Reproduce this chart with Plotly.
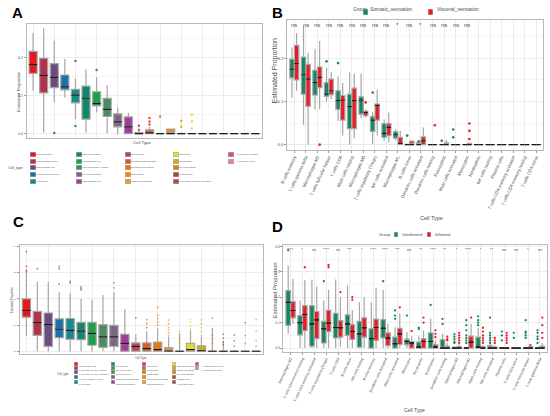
import plotly.graph_objects as go

W, H = 550, 416
FONT = "Arial, Liberation Sans, sans-serif"
GREY = "#4d4d4d"
BOX_LINE = "#a6a6a6"
GREEN, RED = "#15875F", "#EB1C24"

palette = ["#E8161E", "#B5304A", "#6A4C7F", "#1C72A8", "#168A8C", "#13876B",
           "#1EA04A", "#4A8C62", "#7B6783", "#A23D9C", "#C0415C", "#DA5B2A",
           "#E8751A", "#EF8C10", "#E0A51A", "#E2DD23", "#D0A91D", "#C08C2A",
           "#A04E22", "#B54A42", "#D3507A", "#E47EB2"]

# ---- panel A: all samples ----
cells_a = ["B cells memory", "T cells gamma delta", "Macrophages M2", "T cells follicular helper",
           "T cells CD8", "Mast cells resting", "Macrophages M0", "T cells regulatory (Tregs)",
           "NK cells activated", "Macrophages M1", "B cells naive", "Dendritic cells activated",
           "Dendritic cells resting", "Eosinophils", "Mast cells activated", "Monocytes",
           "Neutrophils", "NK cells resting", "Plasma cells", "T cells CD4 memory activated",
           "T cells CD4 memory", "T cells CD4 naive"]
q1_a = [0.158, 0.107, 0.121, 0.115, 0.081, 0.038, 0.073, 0.045, 0.018, 0.0, 0.0, 0.0,
        0.0, 0.0, 0.0, 0.0, 0.0, 0.0, 0.0, 0.0, 0.0, 0.0]
med_a = [0.181, 0.153, 0.148, 0.123, 0.101, 0.093, 0.079, 0.064, 0.031, 0.018, 0.0, 0.002,
         0.0, 0.0, 0.0, 0.0, 0.0, 0.0, 0.0, 0.0, 0.0, 0.0]
q3_a = [0.216, 0.198, 0.184, 0.154, 0.116, 0.125, 0.110, 0.093, 0.052, 0.044, 0.003, 0.010,
        0.0, 0.012, 0.0, 0.0, 0.0, 0.0, 0.0, 0.0, 0.0, 0.0]
lo_a = [0.113, 0.003, 0.082, 0.095, 0.038, 0.003, 0.056, 0.002, 0.0, 0.0, 0.0, 0.0,
        0.0, 0.0, 0.0, 0.0, 0.0, 0.0, 0.0, 0.0, 0.0, 0.0]
hi_a = [0.264, 0.277, 0.244, 0.196, 0.145, 0.169, 0.148, 0.128, 0.069, 0.054, 0.007, 0.018,
        0.0, 0.012, 0.0, 0.0, 0.0, 0.0, 0.0, 0.0, 0.0, 0.0]
out_a_idx = [2, 4, 4, 6, 10, 10, 11, 11, 11, 12, 14, 14, 15, 15, 15]
out_a_val = [0.002, 0.191, 0.020, 0.167, 0.021, 0.010, 0.041, 0.032, 0.024, 0.045,
             0.034, 0.018, 0.050, 0.032, 0.014]

# ---- panel B: somatic vs visceral ----
cells_b = cells_a[:20] + ["T cells CD4 memory resting", "T cells CD4 naive"]
s_q1 = [0.155, 0.117, 0.115, 0.112, 0.082, 0.037, 0.071, 0.031, 0.017, 0.015, 0.0, 0.0,
        0.0, 0.0, 0.0, 0.0, 0.0, 0.0, 0.0, 0.0, 0.0, 0.0]
s_med = [0.175, 0.162, 0.144, 0.117, 0.102, 0.088, 0.103, 0.057, 0.026, 0.023, 0.0, 0.0,
         0.0, 0.0, 0.0, 0.0, 0.0, 0.0, 0.0, 0.0, 0.0, 0.0]
s_q3 = [0.198, 0.203, 0.172, 0.144, 0.125, 0.117, 0.111, 0.065, 0.049, 0.030, 0.001, 0.005,
        0.0, 0.0, 0.0, 0.0, 0.0, 0.0, 0.0, 0.0, 0.0, 0.0]
s_lo = [0.109, 0.046, 0.081, 0.100, 0.055, 0.0, 0.062, 0.002, 0.009, 0.009, 0.0, 0.0,
        0.0, 0.0, 0.0, 0.0, 0.0, 0.0, 0.0, 0.0, 0.0, 0.0]
s_hi = [0.225, 0.275, 0.222, 0.178, 0.158, 0.167, 0.165, 0.075, 0.059, 0.036, 0.002, 0.006,
        0.0, 0.0, 0.0, 0.0, 0.0, 0.0, 0.0, 0.0, 0.0, 0.0]
s_out_idx = [3, 4, 7, 10, 11, 13, 14, 14]
s_out_val = [0.193, 0.189, 0.121, 0.021, 0.008, 0.009, 0.035, 0.017]

v_q1 = [0.150, 0.089, 0.132, 0.116, 0.057, 0.037, 0.067, 0.057, 0.021, 0.0, 0.0, 0.0,
        0.0, 0.0, 0.0, 0.0, 0.0, 0.0, 0.0, 0.0, 0.0, 0.0]
v_med = [0.188, 0.152, 0.156, 0.125, 0.103, 0.102, 0.075, 0.091, 0.040, 0.003, 0.0, 0.009,
         0.0, 0.0, 0.0, 0.0, 0.0, 0.0, 0.0, 0.0, 0.0, 0.0]
v_q3 = [0.230, 0.186, 0.180, 0.152, 0.114, 0.131, 0.077, 0.094, 0.049, 0.017, 0.008, 0.018,
        0.0, 0.004, 0.0, 0.003, 0.0, 0.0, 0.0, 0.0, 0.0, 0.0]
v_lo = [0.125, 0.0, 0.082, 0.105, 0.021, 0.015, 0.063, 0.021, 0.005, 0.0, 0.0, 0.0,
        0.0, 0.0, 0.0, 0.0, 0.0, 0.0, 0.0, 0.0, 0.0, 0.0]
v_hi = [0.258, 0.213, 0.240, 0.169, 0.143, 0.165, 0.082, 0.127, 0.075, 0.032, 0.010, 0.040,
        0.0, 0.011, 0.0, 0.004, 0.0, 0.0, 0.0, 0.0, 0.0, 0.0]
v_out_idx = [2, 6, 12, 15, 15, 15]
v_out_val = [0.0, 0.098, 0.045, 0.049, 0.032, 0.013]
sig_b = ["ns"] * 9 + ["*", "ns", "*", "ns", "ns", "ns", "ns"] + [""] * 6

# ---- panel C: second cohort, all samples ----
cells_c = ["Macrophages M2", "T cells CD4 memory resting", "T cells CD4 memory activated",
           "T cells regulatory (Tregs)", "T cells CD8", "B cells naive", "NK cells resting",
           "B cells memory", "Dendritic cells activated", "Mast cells activated", "Monocytes",
           "Neutrophils", "Eosinophils", "Dendritic cells resting", "Macrophages M0",
           "Macrophages M1", "Mast cells resting", "NK cells activated", "Plasma cells",
           "T cells CD4 naive", "T cells follicular helper", "T cells gamma delta"]
q1_c = [0.130, 0.061, 0.019, 0.052, 0.045, 0.044, 0.023, 0.015, 0.019, 0.0, 0.0, 0.0,
        0.0, 0.0, 0.0, 0.0, 0.0, 0.0, 0.0, 0.0, 0.0, 0.0]
med_c = [0.156, 0.109, 0.102, 0.084, 0.080, 0.077, 0.068, 0.055, 0.055, 0.030, 0.019, 0.010,
         0.006, 0.001, 0.0, 0.006, 0.002, 0.0, 0.0, 0.0, 0.0, 0.0]
q3_c = [0.200, 0.152, 0.146, 0.124, 0.125, 0.110, 0.110, 0.102, 0.099, 0.065, 0.032, 0.032,
        0.035, 0.014, 0.001, 0.030, 0.021, 0.001, 0.001, 0.001, 0.001, 0.001]
lo_c = [0.059, 0.0, 0.0, 0.0, 0.0, 0.0, 0.0, 0.0, 0.0, 0.0, 0.0, 0.0,
        0.0, 0.0, 0.0, 0.0, 0.0, 0.0, 0.0, 0.0, 0.0, 0.0]
hi_c = [0.315, 0.265, 0.265, 0.225, 0.221, 0.200, 0.196, 0.215, 0.225, 0.161, 0.065, 0.077,
        0.087, 0.055, 0.064, 0.080, 0.055, 0.090, 0.040, 0.003, 0.003, 0.003]
out_c_idx = [0, 0, 0, 1, 3, 3, 3, 4, 4, 5, 5, 5, 8, 8, 10, 11, 11, 11,
             12, 12, 12, 12, 12, 13, 13, 13, 13, 13, 13, 14, 14, 14, 14, 14,
             15, 15, 15, 15, 16, 16, 16, 16, 16, 17, 17, 17, 17,
             18, 18, 18, 18, 19, 19, 19, 20, 20, 20, 21, 21, 21, 21]
out_c_val = [0.380, 0.324, 0.306, 0.315, 0.324, 0.315, 0.257, 0.267, 0.261, 0.246, 0.240,
             0.234, 0.261, 0.242, 0.127, 0.121, 0.106, 0.090,
             0.167, 0.137, 0.125, 0.112, 0.100, 0.119, 0.105, 0.090, 0.080, 0.070, 0.060,
             0.075, 0.065, 0.050, 0.040, 0.030,
             0.121, 0.110, 0.095, 0.085, 0.120, 0.105, 0.090, 0.075, 0.060,
             0.127, 0.060, 0.045, 0.030,
             0.065, 0.050, 0.035, 0.025, 0.062, 0.040, 0.020, 0.109, 0.060, 0.030,
             0.121, 0.077, 0.040, 0.020]

# ---- panel D: uninflamed vs inflamed ----
cells_d = cells_c
u_q1 = [0.089, 0.052, 0.008, 0.020, 0.040, 0.050, 0.004, 0.0, 0.040, 0.0, 0.013, 0.0,
        0.0, 0.0, 0.0, 0.0, 0.0, 0.0, 0.0, 0.0, 0.0, 0.0]
u_med = [0.180, 0.100, 0.095, 0.076, 0.081, 0.095, 0.056, 0.037, 0.078, 0.017, 0.026, 0.004,
         0.026, 0.0, 0.0, 0.0, 0.004, 0.0, 0.0, 0.0, 0.0, 0.0]
u_q3 = [0.226, 0.128, 0.167, 0.105, 0.137, 0.131, 0.105, 0.076, 0.112, 0.043, 0.035, 0.024,
        0.060, 0.033, 0.003, 0.002, 0.043, 0.010, 0.002, 0.0, 0.001, 0.001]
u_lo = [0.056, 0.0, 0.0, 0.0, 0.0, 0.0, 0.0, 0.0, 0.0, 0.0, 0.0, 0.0,
        0.0, 0.0, 0.0, 0.0, 0.0, 0.0, 0.0, 0.0, 0.0, 0.0]
u_hi = [0.325, 0.187, 0.270, 0.187, 0.270, 0.246, 0.180, 0.180, 0.229, 0.082, 0.063, 0.047,
        0.115, 0.056, 0.008, 0.005, 0.080, 0.024, 0.005, 0.0, 0.002, 0.002]
u_out_idx = [0, 3, 8, 9, 9, 9, 10, 11, 11, 12, 13, 13, 14, 14, 14, 14, 14,
             15, 15, 15, 15, 15, 15, 15, 16, 16, 16, 16, 17, 17, 17, 17, 17, 17,
             18, 18, 18, 19, 19, 20, 20, 20, 20, 20, 21, 21, 21, 21, 21]
u_out_val = [0.385, 0.263, 0.263, 0.148, 0.128, 0.115, 0.128, 0.080, 0.075, 0.170,
             0.115, 0.095, 0.055, 0.045, 0.035, 0.025, 0.020,
             0.110, 0.090, 0.070, 0.050, 0.040, 0.030, 0.020, 0.125, 0.110, 0.100, 0.090,
             0.120, 0.060, 0.050, 0.040, 0.030, 0.020,
             0.065, 0.050, 0.030, 0.060, 0.040, 0.110, 0.065, 0.060, 0.050, 0.040,
             0.070, 0.060, 0.045, 0.035, 0.020]

f_q1 = [0.119, 0.069, 0.037, 0.065, 0.043, 0.034, 0.043, 0.030, 0.010, 0.014, 0.0, 0.0,
        0.0, 0.0, 0.0, 0.0, 0.0, 0.0, 0.0, 0.0, 0.0, 0.0]
f_med = [0.148, 0.132, 0.111, 0.098, 0.080, 0.065, 0.080, 0.081, 0.039, 0.056, 0.020, 0.026,
         0.004, 0.0, 0.0, 0.023, 0.0, 0.0, 0.0, 0.0, 0.0, 0.0]
f_q3 = [0.183, 0.167, 0.144, 0.148, 0.108, 0.092, 0.119, 0.114, 0.060, 0.078, 0.026, 0.037,
        0.014, 0.008, 0.006, 0.047, 0.005, 0.004, 0.002, 0.0, 0.006, 0.008]
f_lo = [0.095, 0.0, 0.0, 0.0, 0.005, 0.0, 0.0, 0.0, 0.0, 0.0, 0.0, 0.0,
        0.0, 0.0, 0.0, 0.0, 0.0, 0.0, 0.0, 0.0, 0.0, 0.0]
f_hi = [0.272, 0.268, 0.242, 0.229, 0.200, 0.150, 0.200, 0.237, 0.095, 0.135, 0.047, 0.070,
        0.030, 0.020, 0.015, 0.095, 0.012, 0.010, 0.005, 0.0, 0.014, 0.020]
f_out_idx = [1, 3, 3, 4, 5, 5, 9, 10, 11, 11, 12, 12, 12, 13, 13, 13,
             14, 14, 14, 14, 14, 15, 16, 16, 16, 16, 16, 16, 17, 17, 17,
             18, 18, 18, 18, 18, 20, 21, 21, 21, 21]
f_out_val = [0.318, 0.327, 0.318, 0.220, 0.200, 0.190, 0.160, 0.067, 0.120, 0.100,
             0.070, 0.056, 0.043, 0.045, 0.035, 0.030,
             0.060, 0.050, 0.040, 0.030, 0.020, 0.120, 0.080, 0.065, 0.050, 0.040, 0.030, 0.020,
             0.040, 0.030, 0.020, 0.060, 0.050, 0.040, 0.030, 0.020, 0.012,
             0.120, 0.090, 0.060, 0.040]
sig_d = ["****", "*", "ns", "****", "ns", "***", "*", "****", "****", "***", "ns", "**",
         "****", "**", "*", "****", "*", "**", "ns", "ns", "*", "ns"]


def px(x):
    return x / W


def py(y):
    return 1 - y / H


fig = go.Figure()


def add_group(cells, q1, med, q3, lo, hi, color, grp, xa, ya):
    fig.add_trace(go.Box(x=cells, q1=q1, median=med, q3=q3, lowerfence=lo, upperfence=hi,
                         fillcolor=color, line=dict(color=BOX_LINE, width=1.2), whiskerwidth=0,
                         boxpoints=False, offsetgroup=grp, xaxis=xa, yaxis=ya, showlegend=False))


def add_median(cells, med, grp, xa, ya, width=1.2):
    fig.add_trace(go.Box(x=cells, q1=med, median=med, q3=med, lowerfence=med, upperfence=med,
                         fillcolor="rgba(0,0,0,0)", line=dict(color="#1a1a1a", width=width),
                         whiskerwidth=0, boxpoints=False, offsetgroup=grp, xaxis=xa, yaxis=ya,
                         showlegend=False))


def add_outliers(cells, idx, vals, colors, grp, xa, ya, size=2.6, opacity=1.0):
    fig.add_trace(go.Scatter(x=[cells[i] for i in idx], y=vals, mode="markers",
                             marker=dict(size=size, color=colors, opacity=opacity, line=dict(width=0)),
                             offsetgroup=grp, xaxis=xa, yaxis=ya, showlegend=False))


# panel A
for i, c in enumerate(cells_a):
    add_group([c], [q1_a[i]], [med_a[i]], [q3_a[i]], [lo_a[i]], [hi_a[i]], palette[i], "a", "x", "y")
add_median(cells_a, med_a, "a", "x", "y")
add_outliers(cells_a, out_a_idx, out_a_val, [palette[i] for i in out_a_idx], "a", "x", "y", size=2.4)

# panel B
add_group(cells_b, s_q1, s_med, s_q3, s_lo, s_hi, GREEN, "s", "x2", "y2")
add_group(cells_b, v_q1, v_med, v_q3, v_lo, v_hi, RED, "v", "x2", "y2")
add_median(cells_b, s_med, "s", "x2", "y2")
add_median(cells_b, v_med, "v", "x2", "y2")
add_outliers(cells_b, s_out_idx, s_out_val, GREEN, "s", "x2", "y2")
add_outliers(cells_b, v_out_idx, v_out_val, RED, "v", "x2", "y2")

# panel C
for i, c in enumerate(cells_c):
    add_group([c], [q1_c[i]], [med_c[i]], [q3_c[i]], [lo_c[i]], [hi_c[i]], palette[i], "c", "x3", "y3")
add_median(cells_c, med_c, "c", "x3", "y3")
add_outliers(cells_c, out_c_idx, out_c_val, [palette[i] for i in out_c_idx], "c", "x3", "y3",
             size=1.8, opacity=0.7)

# panel D
add_group(cells_d, u_q1, u_med, u_q3, u_lo, u_hi, GREEN, "u", "x4", "y4")
add_group(cells_d, f_q1, f_med, f_q3, f_lo, f_hi, RED, "f", "x4", "y4")
add_median(cells_d, u_med, "u", "x4", "y4", width=1.0)
add_median(cells_d, f_med, "f", "x4", "y4", width=1.0)
add_outliers(cells_d, u_out_idx, u_out_val, GREEN, "u", "x4", "y4", size=2.3)
add_outliers(cells_d, f_out_idx, f_out_val, RED, "f", "x4", "y4", size=2.3)


def xaxis_cfg(domain, anchor, cells, labels, size):
    return dict(domain=domain, anchor=anchor, type="category", categoryorder="array",
                categoryarray=cells, range=[-0.6, len(cells) - 0.4], showticklabels=labels,
                tickangle=-65, tickfont=dict(size=size, color=GREY, family=FONT),
                ticks="outside" if labels else "", ticklen=2, tickcolor="#999999",
                showgrid=True, gridcolor="#ececec", gridwidth=0.7,
                showline=True, mirror=True, linecolor="#b8b8b8", linewidth=1.2, zeroline=False)


def yaxis_cfg(domain, anchor, rng, size):
    return dict(domain=domain, anchor=anchor, range=rng, tick0=0, dtick=0.1, tickformat=".1f",
                tickfont=dict(size=size, color=GREY, family=FONT), ticks="outside", ticklen=2,
                tickcolor="#999999", showgrid=True, gridcolor="#ececec", gridwidth=0.7,
                minor=dict(dtick=0.05, tick0=0.05, showgrid=True, gridcolor="#f5f5f5", gridwidth=0.5),
                showline=True, mirror=True, linecolor="#b8b8b8", linewidth=1.2, zeroline=False)


annotations = []


def text(x, y, s, size, color=GREY, angle=0, xanchor="center", yanchor="middle", bold=False,
         xref="paper", yref="paper"):
    annotations.append(dict(x=x, y=y, xref=xref, yref=yref, text=f"<b>{s}</b>" if bold else s,
                            showarrow=False, textangle=angle, xanchor=xanchor, yanchor=yanchor,
                            font=dict(size=size, color=color, family=FONT), borderpad=0))


def swatch(x, y, color, w, h):
    annotations.append(dict(x=x, y=y, xref="paper", yref="paper", text=" ", showarrow=False,
                            width=w, height=h, bgcolor=color, bordercolor="#9a9a9a",
                            borderwidth=0.4, borderpad=0, font=dict(size=1)))


# panel letters
for letter, lx, ly in [("A", 11, 12), ("B", 274, 12), ("C", 12, 221), ("D", 274, 226)]:
    text(px(lx), py(ly), letter, 15, color="black", bold=True)

# axis titles
text(px(12), py(90), "Estimated Proportion", 4.3, angle=-90)
text(px(137), py(142), "Cell Type", 4.3)
text(px(271), py(70), "Estimated Proportion", 7, angle=-90)
text(px(430), py(218), "Cell Type", 5.5)
text(px(5), py(299), "Estimated Proportion", 2.8, angle=-90)
text(px(136), py(358), "Cell Type", 2.8)
text(px(271.5), py(290), "Estimated Proportion", 6, angle=-90)
text(px(413), py(410), "Cell Type", 5)


def legend_block(names, colors, col_x, row_y, w, h, size, dx):
    # ggplot-style legend: five rows, filled column by column
    for k, (n, c) in enumerate(zip(names, colors)):
        col, row = divmod(k, 5)
        swatch(px(col_x[col]), py(row_y[row]), c, w, h)
        text(px(col_x[col] + dx), py(row_y[row]), n, size, xanchor="left")


legend_block(cells_a, palette, [23.3, 70, 120, 168.3, 226.7], [154, 160.7, 167.3, 174, 180.7],
             5, 4.6, 2.4, 5)
text(px(17), py(167.3), "Cell_type", 3.5, xanchor="right")

legend_block(cells_c, palette, [67.7, 105.7, 136.7, 166.7, 192.7], [365.7, 370, 374.3, 379, 383.7],
             3.6, 3.2, 2.2, 4)
text(px(63.5), py(374.3), "Cell_type", 2.8, xanchor="right")

# group legends B and D
text(px(349), py(8), "Group", 5, xanchor="left")
swatch(px(363), py(8), GREEN, 4, 5.5)
text(px(366.5), py(8), "Somatic_sensation", 5, xanchor="left")
swatch(px(431), py(8), RED, 4, 5.5)
text(px(434.5), py(8), "Visceral_sensation", 5, xanchor="left")

text(px(376), py(234), "Group", 4, xanchor="left")
swatch(px(396), py(234), GREEN, 3.5, 4.5)
text(px(399.5), py(234), "Uninflamed", 4, xanchor="left")
swatch(px(429), py(234), RED, 3.5, 4.5)
text(px(432.5), py(234), "Inflamed", 4, xanchor="left")

# significance labels
for c, s in zip(cells_b, sig_b):
    if s:
        text(c, 0.277, s, 6, xref="x2", yref="y2")
for c, s in zip(cells_d, sig_d):
    text(c, 0.388, s, 4, xref="x4", yref="y4")

fig.update_layout(
    width=W, height=H, margin=dict(l=0, r=0, t=0, b=0),
    paper_bgcolor="white", plot_bgcolor="white",
    boxmode="group", boxgap=0.2, boxgroupgap=0.05,
    scattermode="group", scattergap=0.2,
    showlegend=False,
    font=dict(family=FONT, color=GREY),
    xaxis=xaxis_cfg([px(20), px(258)], "y", cells_a, False, 4),
    yaxis=yaxis_cfg([py(137), py(23)], "x", [-0.0105, 0.288], 3.5),
    xaxis2=xaxis_cfg([px(284), px(543)], "y2", cells_b, True, 4.4),
    yaxis2=yaxis_cfg([py(149), py(19)], "x2", [-0.0115, 0.289], 4.2),
    xaxis3=xaxis_cfg([px(13), px(259)], "y3", cells_c, False, 3),
    yaxis3=yaxis_cfg([py(354), py(245)], "x3", [-0.011, 0.404], 2.2),
    xaxis4=xaxis_cfg([px(280), px(547)], "y4", cells_d, True, 3.6),
    yaxis4=yaxis_cfg([py(352), py(245)], "x4", [-0.016, 0.404], 3.2),
    annotations=annotations,
)

# the page body has an 8px default margin; drop it so the 550x416 figure sits flush
fig.write_html("out.html", config={"displayModeBar": False},
               post_script="document.body.style.margin='0px';")
